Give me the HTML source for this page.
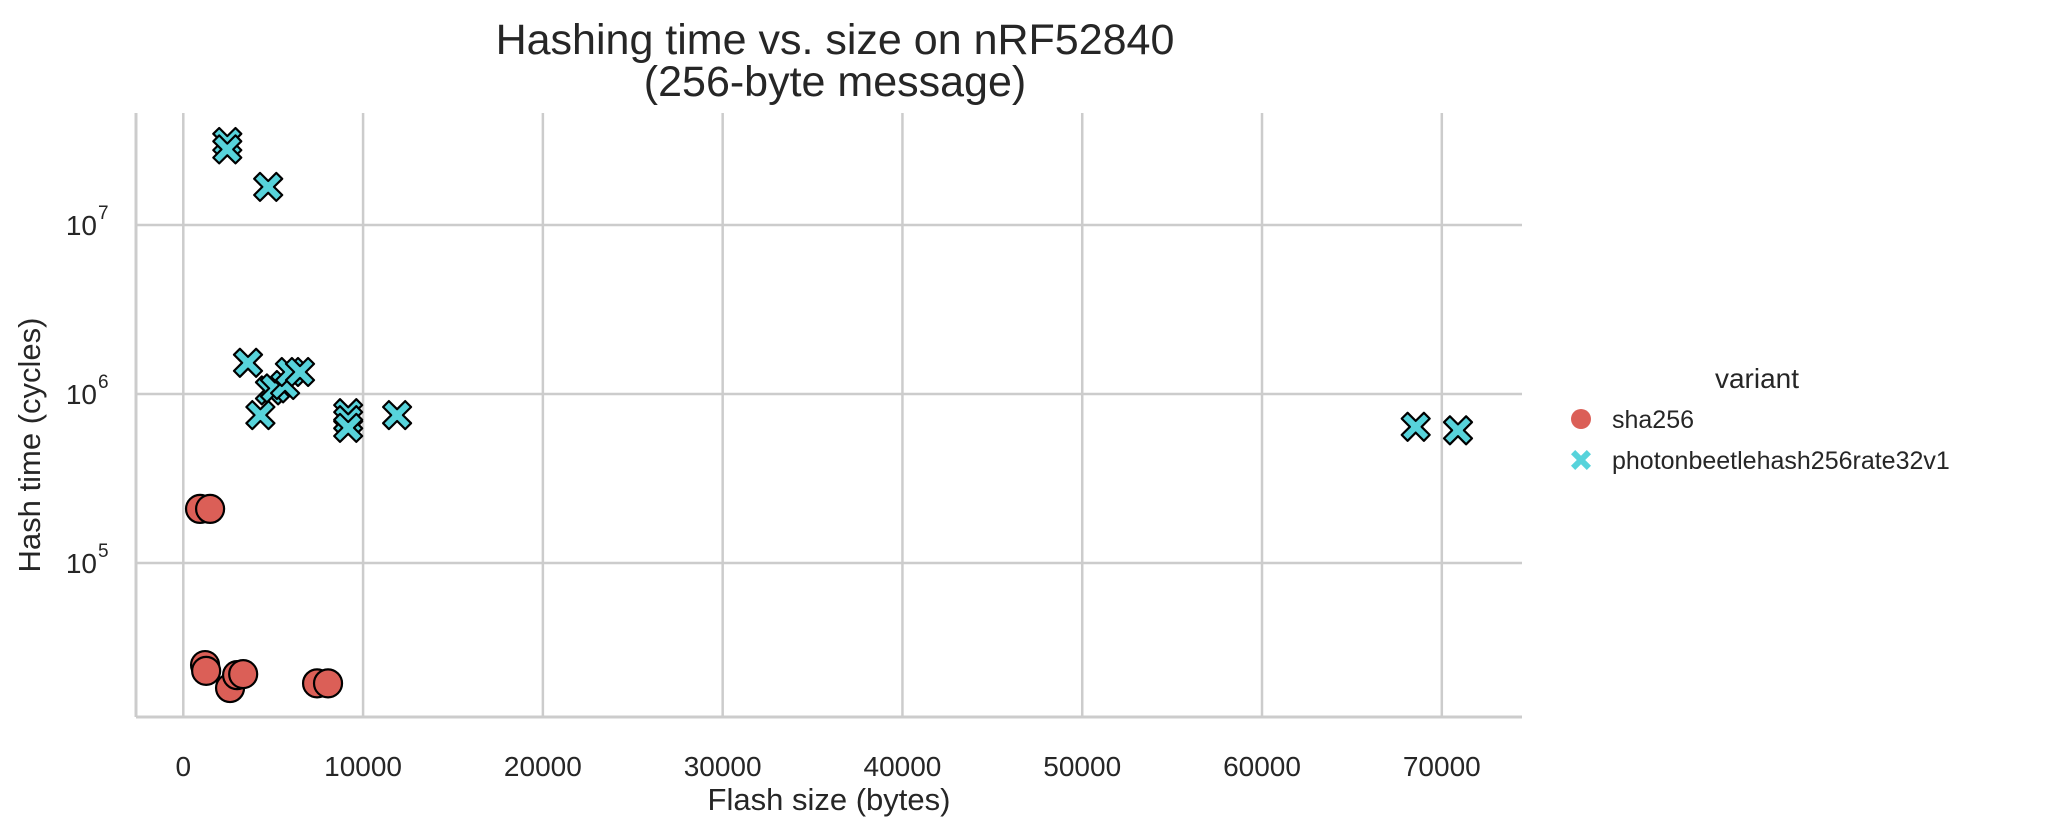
<!DOCTYPE html>
<html><head><meta charset="utf-8"><style>
body{margin:0;background:#fff;}
svg text{font-family:"Liberation Sans",sans-serif;fill:#262626;}
</style></head><body>
<svg id="chart" width="2069" height="834" xmlns="http://www.w3.org/2000/svg">
<rect width="2069" height="834" fill="#fff"/>
<g id="grid"></g>
<g id="marks"></g>
<g id="axes"></g>
<text x="835" y="54" font-size="43" text-anchor="middle">Hashing time vs. size on nRF52840</text>
<text x="835" y="96" font-size="43" text-anchor="middle">(256-byte message)</text>
<text x="829" y="810" font-size="31" text-anchor="middle">Flash size (bytes)</text>
<text transform="translate(40,445) rotate(-90)" font-size="31" text-anchor="middle">Hash time (cycles)</text>
<g>
<text x="1757" y="388" font-size="28" text-anchor="middle">variant</text>
<circle cx="1581" cy="419" r="10" fill="#db5f57"/>
<text x="1612" y="428" font-size="25">sha256</text>
<path id="legX" fill="#57d3db"/>
<text x="1612" y="469" font-size="25">photonbeetlehash256rate32v1</text>
</g>
</svg>
<script>
const xTicks=[0,10000,20000,30000,40000,50000,60000,70000];
const yTickExps=[5,6,7];
const shaX=[930,1490,1210,1270,2600,2990,3330,7440,8050];
const shaY=[2.09e5,2.09e5,2.49e4,2.3e4,1.82e4,2.17e4,2.2e4,1.94e4,1.94e4];
const pbX=[2450,2450,4720,3600,4290,4820,5100,5660,5930,6490,9170,9170,9170,11890,68550,70900];
const pbY=[3.1e7,2.8e7,1.68e7,1.53e6,7.5e5,1.05e6,1.08e6,1.13e6,1.35e6,1.35e6,7.7e5,7.0e5,6.3e5,7.5e5,6.4e5,6.1e5];

const NS="http://www.w3.org/2000/svg";
const L=136,R=1522,T=113,B=717;
function sx(v){return 183.3+v*(1441.8-183.3)/70000;}
function sy(v){return 394-169*Math.log10(v/1e6);}
function mk(tag,attrs,parent){const e=document.createElementNS(NS,tag);for(const k in attrs)e.setAttribute(k,attrs[k]);parent.appendChild(e);return e;}
function xPath(cx,cy,a){const h=a*0.42;
 const P=[[0,-h],[a-h,-a],[a,-a+h],[h,0],[a,a-h],[a-h,a],[0,h],[-a+h,a],[-a,a-h],[-h,0],[-a,-a+h],[-a+h,-a]];
 return 'M'+P.map(p=>(cx+p[0]).toFixed(1)+','+(cy+p[1]).toFixed(1)).join('L')+'Z';}
const grid=document.getElementById('grid'),axes=document.getElementById('axes'),marks=document.getElementById('marks');
xTicks.forEach(t=>{
 const g=mk('line',{x1:sx(t),x2:sx(t),y1:T,y2:B,stroke:'#cccccc','stroke-width':2.5},grid);
 
 
 const lb=mk('text',{x:sx(t),y:776,'font-size':28,'text-anchor':'middle'},axes);
 lb.textContent=t;
 
 
});
yTickExps.forEach(e=>{
 const y=sy(Math.pow(10,e));
 const g=mk('line',{x1:L,x2:R,y1:y,y2:y,stroke:'#cccccc','stroke-width':2.5},grid);
 
 
 const lb=mk('text',{x:97,y:y+10,'font-size':28,'text-anchor':'end'},axes);
 lb.textContent='10';
 
 
 const sp=mk('text',{x:98,y:y-6,'font-size':19},axes);
 sp.textContent=e;
 
 
});
const ls=mk('line',{x1:L,x2:L,y1:T,y2:B,stroke:'#cccccc','stroke-width':3},axes);


const bs=mk('line',{x1:L,x2:R,y1:B,y2:B,stroke:'#cccccc','stroke-width':3},axes);


shaX.forEach((v,i)=>{
 const c=mk('circle',{cx:sx(v),cy:sy(shaY[i]),r:14,fill:'#db5f57',stroke:'#000','stroke-width':2.2},marks);
 
 
});
pbX.forEach((v,i)=>{
 const p=mk('path',{d:xPath(sx(v),sy(pbY[i]),14),fill:'#57d3db',stroke:'#000','stroke-width':2.2,'stroke-linejoin':'round'},marks);
 
 
});
document.getElementById('legX').setAttribute('d',xPath(1581,460,10));
</script>
</body></html>
